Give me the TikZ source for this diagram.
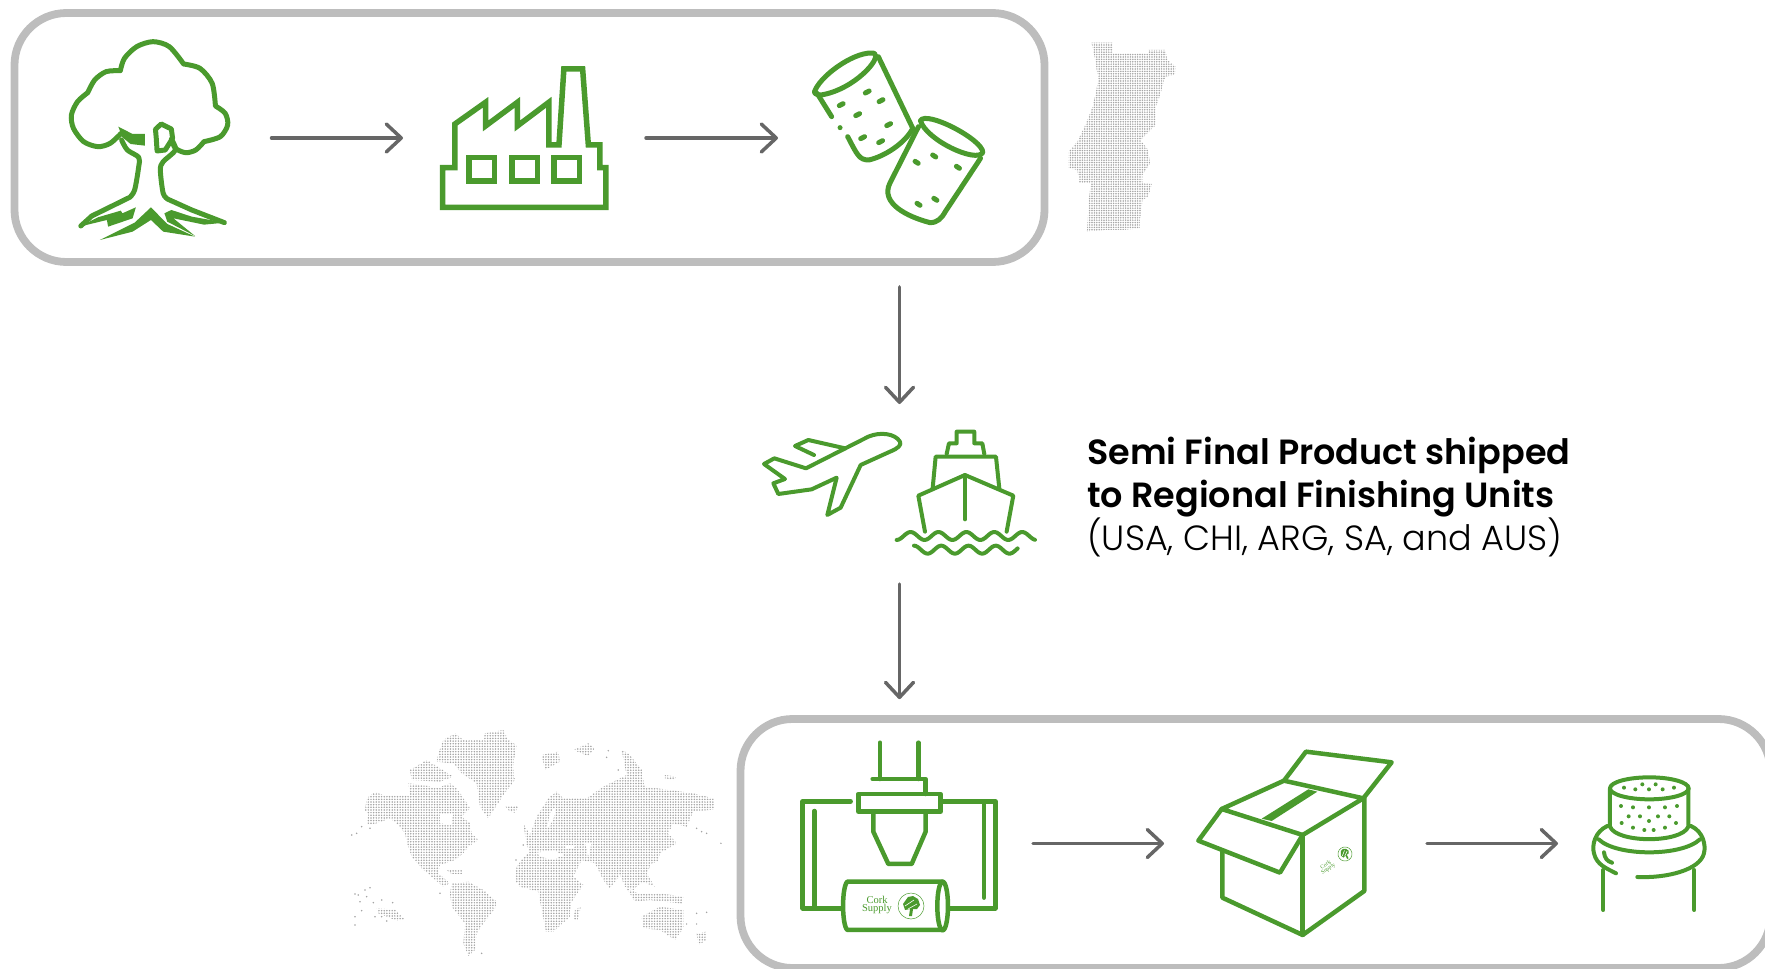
\documentclass[tikz,border=0pt]{standalone}
\usepackage{fontspec}
\setmainfont{Poppins}[BoldFont={Poppins SemiBold}]
\newfontfamily\lightfont{Poppins Light}
\newfontfamily\markfont{Liberation Serif}
\usetikzlibrary{arrows.meta, patterns.meta, calc}

\definecolor{leaf}{HTML}{4A9A2D}
\definecolor{frame}{HTML}{BDBDBD}
\definecolor{flow}{HTML}{666666}
\definecolor{speck}{HTML}{A4A4A4}

\tikzset{
    traced/.style n args={4}{shift={(#1,#2)}, x=#3pt, y=-#4pt},
    regionbox/.style={draw=frame, line width=7.8pt, rounded corners=52pt, inner sep=0pt, minimum width=1030pt, minimum height=249pt},
    iconbox/.style={inner sep=0pt, outer sep=0pt},
    flowline/.style={draw=flow, line width=3.5pt, line cap=round, -{Straight Barb[length=15pt, width=28pt, line width=3.5pt, round]}},
    glyph/.style={draw=leaf, line join=round, line cap=round},
    dotted map/.style={pattern={Dots[radius=.85pt, distance=#1]}, pattern color=speck, even odd rule},
    caption/.style={anchor=base west, inner sep=0pt, font=\fontsize{35}{40}\selectfont},
}

\newcommand{\supplymark}[1]{
    \begin{scope}[#1]
        \draw [leaf, line width=.5pt] (0,0) circle [radius=13pt];
        \fill [leaf] (-8,-2) -- (-3,-9) -- (2,-10) -- (7,-7) -- (9,-1) -- (6,3) -- (2,3) -- (1,10) -- (-2,10) -- (-1,3) -- (-6,4) -- cycle;
        \draw [white, line width=.6pt] (-6,0) -- (3,-6) (-3,3) -- (6,-2);
    \end{scope}
}

\begin{document}
\begin{tikzpicture}[x=1pt, y=-1pt]
    \clip (0,0) rectangle (1765,969);
    \useasboundingbox (0,0) rectangle (1765,969);

    \node [regionbox] (Forest) at (529.5,137.5) {};
    \node [regionbox] (Finishing) at (1255.5,843.5) {};

    \node [iconbox, minimum width=161pt, minimum height=200pt] (Tree) at (150,138) {};
    \node [iconbox, minimum width=168pt, minimum height=140pt] (Factory) at (524,138) {};
    \node [iconbox, minimum width=174pt, minimum height=180pt] (Corks) at (900,138) {};
    \node [iconbox, minimum width=273pt, minimum height=125pt] (Transport) at (899.5,492.5) {};
    \node [iconbox, minimum width=196pt, minimum height=190pt] (Machine) at (899,843.5) {};
    \node [iconbox, minimum width=196pt, minimum height=186pt] (Carton) at (1295,843.5) {};
    \node [iconbox, minimum width=113pt, minimum height=137pt] (Bottle) at (1649.5,843.5) {};

    % flow between the stages
    \draw [flowline, shorten <=41pt, shorten >=37pt] (Tree) -- (Factory);
    \draw [flowline, shorten <=38pt, shorten >=35pt] (Factory) -- (Corks);
    \draw [flowline, shorten <=21pt, shorten >=26pt] (Forest.south -| Transport) -- (Transport.north);
    \draw [flowline, shorten <=29pt, shorten >=16pt] (Transport.south) -- (Transport |- Finishing.north);
    \draw [flowline, shorten <=36pt, shorten >=33pt] (Machine) -- (Carton);
    \draw [flowline, shorten <=34pt, shorten >=35pt] (Carton) -- (Bottle);

    % tree
    \begin{scope}[traced={0}{0}{.408}{.3333}]
        \draw [glyph, line width=5pt]
            plot [smooth] coordinates {(297,400) (270,430) (240,440) (205,425) (180,385) (175,345) (190,305) (215,278)}
            -- plot [smooth] coordinates {(215,278) (232,240) (260,215) (295,212)}
            -- plot [smooth] coordinates {(295,212) (305,175) (335,140) (375,125) (415,140) (450,192)}
            -- plot [smooth] coordinates {(450,192) (490,205) (520,250) (528,318)}
            -- plot [smooth] coordinates {(528,318) (552,340) (558,375) (540,410) (500,425)}
            -- plot [smooth] coordinates {(500,425) (480,450) (455,458) (430,445) (420,418)};
        \draw [glyph, line width=5pt] plot [smooth] coordinates {(298,420) (312,450) (340,472) (340,500) (330,570) (318,592)} -- (225,648) -- (198,678);
        \draw [glyph, line width=5pt] plot [smooth] coordinates {(420,418) (430,450) (400,485) (393,510) (400,580) (412,598)} -- (470,630) -- (550,668);
        \draw [glyph, line width=5pt] (395,372) -- (420,387) -- (423,415) -- (405,450) -- (385,453) -- (383,415) -- (381,388) -- cycle;
        \fill [leaf] (290,380) -- (325,402) -- (355,402) -- (355,437) -- (320,432) -- (300,412) -- cycle;
        \fill [leaf] (195,680) -- (262,660) -- (265,680) -- (325,655) -- (333,622) -- (300,640) -- (296,632) -- (240,652) -- cycle;
        \fill [leaf] (245,720) -- (330,668) -- (370,622) -- (410,672) -- (478,710) -- (400,695) -- (370,660) -- (325,695) -- cycle;
        \fill [leaf] (552,668) -- (470,650) -- (420,630) -- (403,640) -- (410,665) -- (478,708) -- (425,655) -- (500,674) -- cycle;
    \end{scope}

    % factory
    \begin{scope}[traced={0}{0}{.408}{.3333}]
        \draw [glyph, line width=5.5pt, line join=miter] (1085,622) -- (1085,503) -- (1115,503) -- (1115,372) -- (1190,307) -- (1190,378) -- (1268,307) -- (1268,378) -- (1345,307) -- (1345,435) -- (1370,435) -- (1382,207) -- (1428,207) -- (1442,435) -- (1470,435) -- (1470,503) -- (1485,503) -- (1485,622) -- cycle;
        \foreach \wx in {1150, 1255, 1358} {
            \draw [glyph, line width=5.5pt, line join=miter] (\wx,472) rectangle ++(62,71);
        }
    \end{scope}

    % corks
    \begin{scope}[traced={620}{0}{.3827}{.3333}]
        \draw [glyph, line width=5pt] (510,270) .. controls (530,220) and (620,150) .. (665,160) .. controls (685,175) and (610,270) .. (525,285) .. controls (510,285) and (505,278) .. (510,270);
        \draw [glyph, line width=5pt] (675,170) -- (765,385) .. controls (745,430) and (690,470) .. (650,480) .. controls (625,480) and (620,465) .. (595,410);
        \draw [glyph, line width=5pt] (515,280) -- (553,350);
        \draw [glyph, line width=5pt] (785,362) .. controls (800,330) and (950,420) .. (948,458) .. controls (930,490) and (800,420) .. (785,362);
        \draw [glyph, line width=5pt] (780,380) -- (705,550) .. controls (680,610) and (750,650) .. (810,668) .. controls (830,668) and (840,655) .. (850,635) -- (942,475);
        \fill [leaf] (575,383) circle [radius=2.5pt];
        \foreach \dx/\dy in {578/314, 646/276, 682/302, 621/344, 702/374, 634/413, 681/425} {
            \draw [glyph, line width=5pt] (\dx-5,\dy+3) -- (\dx+5,\dy-3);
        }
        \foreach \dx/\dy in {775/487, 821/468, 883/502, 780/613, 824/598} {
            \draw [glyph, line width=5pt] (\dx-4,\dy-3) -- (\dx+4,\dy+3);
        }
        % portugal
        \fill [dotted map=2.4pt] (1232,128) -- (1288,128) -- (1288,160) -- (1380,160) -- (1380,150) -- (1425,150) -- (1430,180) -- (1452,200) -- (1450,225) -- (1425,230) -- (1410,290) -- (1400,320) -- (1400,375) -- (1360,420) -- (1380,450) -- (1385,490) -- (1365,525) -- (1365,550) -- (1390,552) -- (1380,590) -- (1365,600) -- (1358,685) -- (1315,690) -- (1265,690) -- (1220,695) -- (1225,600) -- (1230,550) -- (1200,548) -- (1195,510) -- (1172,505) -- (1172,455) -- (1195,425) -- (1218,370) -- (1235,320) -- (1250,240) -- (1240,170) -- cycle;
    \end{scope}

    % plane and ship
    \begin{scope}[traced={740}{410}{.3333}{.3333}]
        \draw [glyph, line width=4pt] (480,95) .. controls (465,70) and (420,65) .. (385,80) -- (198,175) -- (103,145) -- (72,162) -- (135,207) -- (100,220) -- (115,252) -- (215,238) -- (290,203) -- (262,315) -- (302,293) -- (362,165) -- (450,125) .. controls (475,115) and (485,105) .. (480,95);
        \draw [glyph, line width=4pt] (315,115) -- (205,90) -- (165,108) -- (222,135);
        \draw [glyph, line width=4pt] (620,132) -- (627,100) -- (650,100) -- (650,65) -- (703,65) -- (703,100) -- (727,100) -- (733,132);
        \draw [glyph, line width=4pt] (578,235) -- (587,140) -- (768,140) -- (778,235);
        \draw [glyph, line width=4pt] (555,365) -- (535,257) -- (675,195) -- (820,257) -- (800,365);
        \draw [glyph, line width=4pt] (675,195) -- (675,328);
        \draw [glyph, line width=4pt] plot [domain=470:885, samples=70] (\x,{378+12*cos((\x-470)*4.3)});
        \draw [glyph, line width=4pt] plot [domain=522:833, samples=60] (\x,{419+12*cos((\x-522)*4.4+180)});
    \end{scope}

    \node [caption] (CaptionTop) at (1087,464) {\bfseries Semi Final Product shipped};
    \node [caption] (CaptionMid) at (1087,507) {\bfseries to Regional Finishing Units};
    \node [caption, font=\fontsize{35}{40}\lightfont] (CaptionLow) at (1087,550.5) {(USA, CHI, ARG, SA, and AUS)};

    % world map
    \begin{scope}[traced={340}{720}{.3333}{.3333}]
        \fill [dotted map=2.65pt] (80,235) -- (105,215) -- (135,228) -- (210,225) -- (205,190) -- (250,195) -- (290,205) -- (330,190) -- (350,205) -- (375,240) -- (390,265) -- (365,290) -- (390,310) -- (395,340) -- (415,360) -- (385,380) -- (370,400) -- (345,420) -- (300,435) -- (295,460) -- (330,490) -- (310,500) -- (275,470) -- (245,445) -- (215,410) -- (200,365) -- (195,340) -- (170,310) -- (150,295) -- (110,310) -- (80,315) -- (85,285) -- (75,270) -- cycle
            (300,280) -- (340,280) -- (335,315) -- (300,310) -- cycle;
        \fill [dotted map=2.65pt] (295,100) -- (310,60) -- (345,40) -- (370,60) -- (430,60) -- (435,40) -- (490,30) -- (505,60) -- (530,75) -- (520,140) -- (525,180) -- (490,225) -- (445,295) -- (420,260) -- (410,190) -- (365,160) -- (340,130) -- (290,125) -- cycle;
        \fill [dotted map=2.65pt] (210,150) -- (260,120) -- (300,145) -- (340,170) -- (300,185) -- (215,180) -- cycle;
        \fill [dotted map=2.65pt] (495,258) -- (535,258) -- (525,278) -- (510,275) -- cycle;
        \fill [dotted map=2.65pt] (335,490) -- (385,485) -- (430,510) -- (470,545) -- (465,565) -- (430,610) -- (410,640) -- (405,690) -- (385,708) -- (370,670) -- (375,610) -- (335,560) -- (330,520) -- cycle;
        \fill [dotted map=2.65pt] (320,450) -- (368,450) -- (368,462) -- (335,462) -- cycle;
        \fill [dotted map=2.65pt] (110,565) -- (165,568) -- (195,600) -- (170,602) -- (115,580) -- cycle;
        \fill [dotted map=2.65pt] (525,480) -- (530,440) -- (545,420) -- (570,395) -- (560,375) -- (550,310) -- (570,345) -- (590,290) -- (625,235) -- (650,215) -- (670,235) -- (740,235) -- (790,200) -- (860,165) -- (905,155) -- (915,200) -- (990,210) -- (1060,220) -- (1120,235) -- (1125,268) -- (1060,275) -- (1040,320) -- (1000,310) -- (985,340) -- (1010,370) -- (960,400) -- (955,425) -- (935,430) -- (920,460) -- (945,500) -- (920,490) -- (900,490) -- (880,510) -- (855,500) -- (840,465) -- (810,505) -- (790,480) -- (765,430) -- (725,420) -- (700,470) -- (730,495) -- (695,545) -- (690,590) -- (640,635) -- (618,635) -- (605,570) -- (595,515) -- (540,500) -- cycle
            (630,280) -- (650,255) -- (640,300) -- (620,330) -- cycle
            (670,375) -- (710,375) -- (700,385) -- (680,385) -- cycle
            (735,370) -- (755,370) -- (745,410) -- cycle
            (590,398) -- (640,390) -- (670,405) -- (640,420) -- (600,410) -- cycle;
        \fill [dotted map=2.65pt] (705,570) -- (722,560) -- (715,600) -- (700,600) -- cycle;
        \fill [dotted map=2.65pt] (860,505) -- (895,520) -- (960,520) -- (1030,530) -- (1025,550) -- (970,545) -- (930,540) -- (885,545) -- cycle;
        \fill [dotted map=2.65pt] (905,590) -- (960,560) -- (1030,570) -- (1030,625) -- (1005,660) -- (960,630) -- (910,625) -- cycle;
        \fill [dotted map=2.65pt] (1070,640) -- (1100,635) -- (1100,660) -- (1075,675) -- cycle;
        \fill [dotted map=2.65pt] (605,105) -- (655,95) -- (660,125) -- (615,150) -- cycle;
        \fill [dotted map=2.65pt] (700,90) -- (745,70) -- (765,85) -- (745,108) -- cycle;
        \fill [dotted map=2.65pt] (845,90) -- (865,100) -- (910,155) -- (860,165) -- cycle;
        \fill [dotted map=2.65pt] (975,165) -- (1010,170) -- (1000,180) -- (975,175) -- cycle;
        \foreach \px/\py in {45/522, 55/525, 75/510, 90/503, 80/530, 60/545, 100/548, 125/540, 158/548, 65/572, 45/590, 45/615, 105/590, 125/590, 140/603, 35/345, 50/340, 65/320, 90/325, 300/520, 425/700, 1143/370, 1100/577, 1070/580, 1040/612, 1070/612, 1085/335, 1070/325, 1100/340, 805/92, 800/112, 835/150, 550/375, 528/420} {
            \fill [speck] (\px,\py) circle [radius=.85pt];
        }
    \end{scope}

    % machine
    \begin{scope}[traced={760}{720}{.3333}{.3333}]
        \draw [glyph, line width=4.5pt] (360,68) -- (360,177) (475,68) -- (475,177);
        \draw [glyph, line width=4.5pt] (338,177) -- (497,177) -- (497,222);
        \draw [glyph, line width=4.5pt] (295,222) rectangle (542,275);
        \draw [glyph, line width=4.5pt] (340,278) -- (340,335) -- (385,432) -- (455,432) -- (497,335) -- (497,278);
        \draw [glyph, line width=4.5pt] (272,244) -- (128,244) -- (128,565) -- (248,565);
        \draw [glyph, line width=4.5pt] (548,244) -- (706,244) -- (706,565) -- (565,565);
        \draw [glyph, line width=4.5pt] (163,273) -- (163,560) (672,250) -- (672,533);
        \draw [glyph, line width=4.5pt] (548,485) -- (262,485) .. controls (245,500) and (245,615) .. (262,630) -- (548,630);
        \draw [glyph, line width=4.5pt] (548,558) ellipse [x radius=16, y radius=73];
    \end{scope}
    \node [iconbox, align=center, text=leaf, font=\fontsize{10.5}{8.5}\markfont] (MachineMark) at (877,905) {Cork\\Supply};
    \supplymark{shift={(911,906)}}

    % carton
    \begin{scope}[traced={1180}{730}{.3333}{.3333}]
        \draw [glyph, line width=4.5pt] (312,152) -- (378,65) -- (635,97) -- (550,205);
        \draw [glyph, line width=4.5pt] (125,237) -- (312,152) -- (550,205) -- (368,315) -- cycle;
        \fill [leaf] (245,266) -- (385,178) -- (412,185) -- (275,273) -- cycle;
        \draw [glyph, line width=4.5pt] (125,237) -- (55,332) -- (300,428) -- (368,315);
        \draw [glyph, line width=4.5pt] (127,365) -- (127,503) -- (368,615) -- (553,483) -- (553,205);
        \draw [glyph, line width=4.5pt] (368,315) -- (368,615);
    \end{scope}
    \node [iconbox, align=center, text=leaf, rotate=35, font=\fontsize{5.6}{4.6}\markfont] (CartonMark) at (1327,867) {Cork\\Supply};
    \supplymark{shift={(1345,854)}, scale=.54, rotate=35}

    % bottle
    \begin{scope}[traced={1400}{720}{.3333}{.3333}]
        \draw [glyph, line width=4pt] (748,205) ellipse [x radius=118, y radius=33];
        \draw [glyph, line width=4pt] (630,205) -- (630,320) .. controls (650,370) and (845,370) .. (865,320) -- (865,205);
        \draw [glyph, line width=4pt] (622,318) .. controls (585,335) and (575,375) .. (582,400) .. controls (590,435) and (620,445) .. (648,460);
        \draw [glyph, line width=4pt] (873,318) .. controls (910,335) and (918,375) .. (912,400) .. controls (900,450) and (800,475) .. (712,471);
        \draw [glyph, line width=4pt] (596,358) .. controls (650,410) and (845,410) .. (900,358);
        \draw [glyph, line width=4pt] (610,450) -- (610,570) (883,450) -- (883,570);
        \draw [glyph, line width=4pt] (612,397) .. controls (614,415) and (622,424) .. (636,428);
        \foreach \dx/\dy in {672/203, 706/208, 727/193, 747/208, 767/193, 788/208, 822/203, 663/258, 699/262, 747/262, 795/262, 831/258, 686/289, 720/289, 774/289, 808/289, 747/303, 665/309, 828/309, 699/323, 733/330, 761/330, 795/323} {
            \fill [leaf] (\dx,\dy) circle [radius=2pt];
        }
    \end{scope}
\end{tikzpicture}
\end{document}
